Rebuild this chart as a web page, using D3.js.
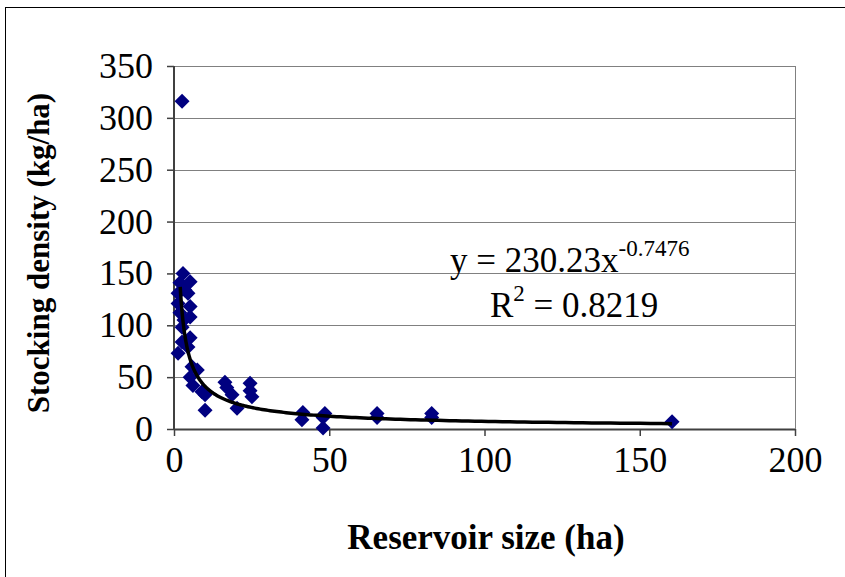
<!DOCTYPE html>
<html><head><meta charset="utf-8">
<script src="https://cdn.jsdelivr.net/npm/d3@7"></script>
<style>html,body{margin:0;padding:0;background:#fff;} svg text{font-family:"Liberation Serif","Times New Roman",serif;}</style>
</head><body>
<svg id="chart" width="845" height="577"></svg>
<script>
// Reservoir size (ha)
const sizeHa = [2.6,2.9,5.2,1.9,3.5,1.3,4.5,1.3,5.2,1.9,3.2,5.2,2.6,5.2,2.6,1.3,4.5,5.8,7.5,5.2,6.1,9,10,10,16.4,17,18.7,20.3,24.5,24.5,25.1,41.5,41.2,48.6,48,48,65.4,65.4,83,83,160.4];
// Stocking density (kg/ha)
const densityKgHa = [316,150,142,141,134,131,131,121,118,112,105,108,98,88,84,73,79,60,57,50,42,36,33,18,45,40,33,20,44,37,31,16,9,15,11,1,15,11,15,11,7];
const xTicks = [0,50,100,150,200];
const yTicks = [0,50,100,150,200,250,300,350];
const trendA = 230.23, trendB = -0.7476;
const trendXmin = 2, trendXmax = 160.4;

const svg = d3.select("#chart");
const font = "Liberation Serif";
svg.append("rect").attr("x",5.5).attr("y",7.5).attr("width",900).attr("height",700)
  .attr("fill","#fff").attr("stroke","#000").attr("stroke-width",1);

const L=174, R=795, T=66, B=429;
const x = d3.scaleLinear().domain([0,200]).range([L,R]);
const y = d3.scaleLinear().domain([0,350]).range([B,T]);

svg.append("g").selectAll("line").data(yTicks.filter(d=>d>0)).join("line")
  .attr("x1",L).attr("x2",R).attr("y1",d=>Math.round(y(d))+0.5).attr("y2",d=>Math.round(y(d))+0.5)
  .attr("stroke","#808080").attr("stroke-width",1);
svg.append("line").attr("x1",R+0.5).attr("x2",R+0.5).attr("y1",T).attr("y2",B).attr("stroke","#808080");

const yAxis = svg.append("g").attr("transform",`translate(${L},0)`)
  .call(d3.axisLeft(y).tickValues(yTicks).tickSize(7).tickPadding(14).tickFormat(d3.format("d")));
const xAxis = svg.append("g").attr("transform",`translate(0,${B})`)
  .call(d3.axisBottom(x).tickValues(xTicks).tickSize(7).tickPadding(10).tickFormat(d3.format("d")));
[yAxis,xAxis].forEach(g=>{
  g.attr("font-family",null).attr("font-size",null);
  g.select(".domain").attr("stroke","#404040").attr("stroke-width",2);
  g.selectAll(".tick line").attr("stroke","#404040").attr("stroke-width",1.5);
  g.selectAll(".tick text").style("font-family",font).style("font-size","36px").attr("fill","#000");
});
xAxis.select(".domain").attr("d",`M${L},0.5H${R}`);
yAxis.select(".domain").attr("d",`M0,${T}V${B}`);

const pts = sizeHa.map((v,i)=>[v,densityKgHa[i]]);
const r=7.5;
svg.append("g").selectAll("path").data(pts).join("path")
  .attr("d",d=>{const cx=x(d[0]), cy=y(d[1]);return `M${cx},${cy-r}L${cx+r},${cy}L${cx},${cy+r}L${cx-r},${cy}Z`;})
  .attr("fill","#000080");

const tx = d3.range(0,201).map(i=>trendXmin*Math.pow(trendXmax/trendXmin,i/200));
svg.append("path").datum(tx.map(v=>[v,trendA*Math.pow(v,trendB)]))
  .attr("d",d3.line().x(d=>x(d[0])).y(d=>y(d[1])))
  .attr("fill","none").attr("stroke","#000").attr("stroke-width",3.5);

const eq = svg.append("text").attr("x",450).attr("y",272).style("font-family",font).style("font-size","35px");
eq.append("tspan").text("y = 230.23x");
eq.append("tspan").attr("dy",-16).style("font-size","23px").text("-0.7476");
const r2 = svg.append("text").attr("x",490).attr("y",317).style("font-family",font).style("font-size","35px");
r2.append("tspan").text("R");
r2.append("tspan").attr("dy",-16).style("font-size","23px").text("2");
r2.append("tspan").attr("dy",16).text(" = 0.8219");

svg.append("text").attr("x",486).attr("y",549).attr("text-anchor","middle")
  .style("font-family",font).style("font-size","35px").attr("font-weight","bold").text("Reservoir size (ha)");
svg.append("text").attr("transform","translate(49,253) rotate(-90)").attr("text-anchor","middle")
  .style("font-family",font).style("font-size","31px").attr("font-weight","bold").text("Stocking density (kg/ha)");
</script>
</body></html>
